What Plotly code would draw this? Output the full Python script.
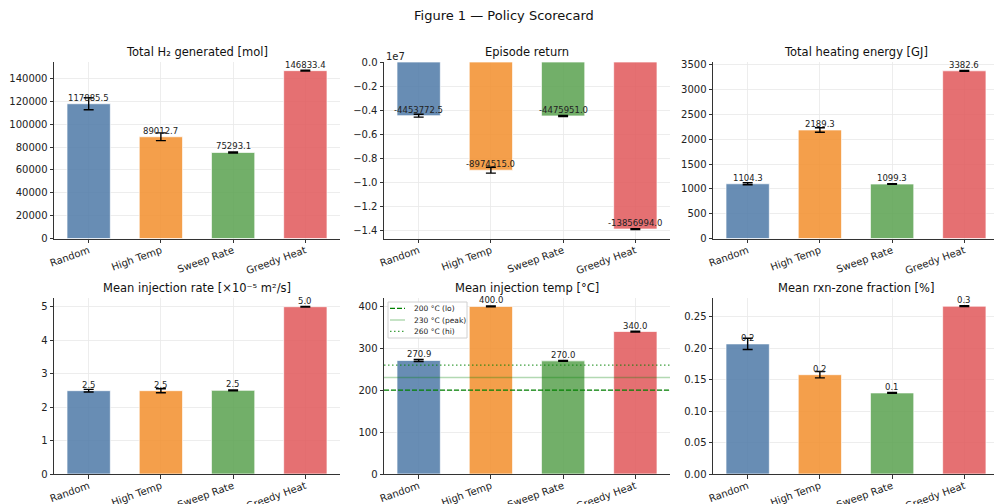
import plotly.graph_objects as go

CATEGORIES = ["Random", "High Temp", "Sweep Rate", "Greedy Heat"]
COLORS = ["#4e79a7", "#f28e2b", "#59a14f", "#e15759"]

H2_MEAN = [117885.5, 89012.7, 75293.1, 146833.4]
H2_ERR = [5200, 3400, 500, 300]
RET_MEAN = [-4453772.5, -8974515.0, -4475951.0, -13856994.0]
RET_ERR = [120000, 240000, 40000, 40000]
HEAT_MEAN = [1104.3, 2189.3, 1099.3, 3382.6]
HEAT_ERR = [20, 45, 8, 8]
RATE_MEAN = [2.49, 2.49, 2.50, 5.00]
RATE_ERR = [0.04, 0.06, 0.01, 0.01]
TEMP_MEAN = [270.9, 400.0, 270.0, 340.0]
TEMP_ERR = [2.5, 1.0, 1.0, 1.0]
FRAC_MEAN = [0.207, 0.158, 0.129, 0.267]
FRAC_ERR = [0.009, 0.005, 0.0006, 0.0006]

TITLES = ["Total H₂ generated [mol]", "Episode return", "Total heating energy [GJ]",
          "Mean injection rate [×10⁻⁵ m²/s]", "Mean injection temp [°C]", "Mean rxn-zone fraction [%]"]

RET_TICKS = [0.0, -0.2, -0.4, -0.6, -0.8, -1.0, -1.2, -1.4]
RET_SCALE = 1e7

HLINE_VALUES = [200, 230, 260]
HLINE_LABELS = ["200 °C (lo)", "230 °C (peak)", "260 °C (hi)"]
HLINE_STYLES = [("rgba(0,128,0,1)", "5px,2px", 1.3), ("rgba(0,128,0,0.3)", "solid", 1.5),
                ("rgba(0,128,0,0.75)", "1.5px,2.5px", 1.3)]

W, H = 994, 504
FONT = "DejaVu Sans, Liberation Sans, sans-serif"

def rgba(hexc, a):
    h = hexc.lstrip("#")
    return "rgba(%d,%d,%d,%.2f)" % (int(h[0:2], 16), int(h[2:4], 16), int(h[4:6], 16), a)

panels = [
    (H2_MEAN, H2_ERR, [0, 154400]),
    (RET_MEAN, RET_ERR, [-14640000, 0]),
    (HEAT_MEAN, HEAT_ERR, [0, 3560]),
    (RATE_MEAN, RATE_ERR, [0, 5.26]),
    (TEMP_MEAN, TEMP_ERR, [0, 420]),
    (FRAC_MEAN, FRAC_ERR, [0, 0.28]),
]

# pixel layout of axes: (left, right, top, bottom)
col_px = [(54, 340), (384, 670), (713, 994)]
row_px = [(62, 238.5), (298, 474)]
xranges = [[-0.48, 3.48], [-0.48, 3.48], [-0.48, 3.411]]
title_cx = [197, 527, 855.5]
title_cy = [52, 288]

fig = go.Figure()
layout = dict(
    width=W, height=H, margin=dict(l=0, r=0, t=0, b=0, autoexpand=False),
    paper_bgcolor="white", plot_bgcolor="white",
    font=dict(family=FONT, size=10, color="#222"),
    showlegend=False, barmode="overlay",
)
annotations = []
shapes = []

for i, (mean, err, yr) in enumerate(panels):
    r, c = divmod(i, 3)
    n = i + 1
    xa = "xaxis" if n == 1 else "xaxis%d" % n
    ya = "yaxis" if n == 1 else "yaxis%d" % n
    xr = "x" if n == 1 else "x%d" % n
    yr_ = "y" if n == 1 else "y%d" % n
    l, rr = col_px[c]
    t, b = row_px[r]
    fig.add_trace(go.Bar(
        x=list(range(len(CATEGORIES))), y=mean, width=0.6,
        marker=dict(color=[rgba(cc, 0.85) for cc in COLORS], line=dict(color="rgba(255,255,255,0.7)", width=1)),
        error_y=dict(type="data", array=err, color="black", thickness=1.4, width=5),
        xaxis=xr, yaxis=yr_, hoverinfo="skip",
    ))
    layout[xa] = dict(
        domain=[l / W, rr / W], range=xranges[c], anchor=yr_, automargin=False,
        tickmode="array", tickvals=list(range(len(CATEGORIES))), ticktext=CATEGORIES,
        tickangle=-20, showline=True, linecolor="#333", linewidth=1,
        ticks="outside", ticklen=3.5, tickcolor="#333", ticklabelstandoff=-2,
        showgrid=True, gridcolor="#e8e8e8", gridwidth=0.8, zeroline=False,
        tickfont=dict(size=10, color="#222"), fixedrange=True,
    )
    yd = dict(
        domain=[1 - b / H, 1 - t / H], range=yr, anchor=xr, automargin=False,
        showline=True, linecolor="#333", linewidth=1,
        ticks="outside", ticklen=3.5, tickcolor="#333",
        showgrid=True, gridcolor="#e8e8e8", gridwidth=0.8, zeroline=False,
        tickfont=dict(size=10, color="#222"), fixedrange=True,
    )
    if i == 0:
        yd.update(tickformat="d", dtick=20000)
    elif i == 1:
        yd.update(tickmode="array", tickvals=[v * RET_SCALE for v in RET_TICKS],
                  ticktext=[("%.1f" % v).replace("-", "−") for v in RET_TICKS])
    elif i == 2:
        yd.update(tickformat="d", dtick=500)
    elif i == 3:
        yd.update(tickformat="d", dtick=1)
    elif i == 4:
        yd.update(tickformat="d", dtick=100)
    else:
        yd.update(tickformat=".2f", dtick=0.05)
    layout[ya] = yd

    for k, v in enumerate(mean):
        annotations.append(dict(
            x=k, y=v, xref=xr, yref=yr_, text="%.1f" % v, showarrow=False,
            yanchor="bottom", xanchor="center", yshift=-1,
            font=dict(size=8.5, color="#222"),
        ))
    annotations.append(dict(
        x=title_cx[c] / W, y=1 - title_cy[r] / H, xref="paper", yref="paper",
        text=TITLES[i], showarrow=False, xanchor="center", yanchor="middle",
        font=dict(size=11.5, color="#111"),
    ))

# offset text for episode return
annotations.append(dict(x=384 / W, y=1 - 56 / H, xref="paper", yref="paper", text="1e7",
                        showarrow=False, xanchor="left", yanchor="middle", font=dict(size=10, color="#222")))

# figure title
annotations.append(dict(x=504 / W, y=1 - 15 / H, xref="paper", yref="paper",
                        text="Figure 1 — Policy Scorecard", showarrow=False,
                        xanchor="center", yanchor="middle", font=dict(size=13, color="#111")))

# reference lines in the temperature panel
for v, (col, dash, wdt) in zip(HLINE_VALUES, HLINE_STYLES):
    shapes.append(dict(type="line", xref="x5 domain", yref="y5", x0=0, x1=1, y0=v, y1=v,
                       line=dict(color=col, dash=dash, width=wdt), layer="above"))

# manual legend box in the temperature panel
lg_l, lg_t, lg_r, lg_b = 388, 302, 467, 338
shapes.append(dict(type="rect", xref="paper", yref="paper", x0=lg_l / W, x1=lg_r / W,
                   y0=1 - lg_b / H, y1=1 - lg_t / H, line=dict(color="#d0d0d0", width=1),
                   fillcolor="rgba(255,255,255,0.85)", layer="above"))
row_y = [308.3, 320, 331.3]
for yy, lab, (col, dash, wdt) in zip(row_y, HLINE_LABELS, HLINE_STYLES):
    shapes.append(dict(type="line", xref="paper", yref="paper", x0=390 / W, x1=405 / W,
                       y0=1 - yy / H, y1=1 - yy / H, line=dict(color=col, dash=dash, width=wdt), layer="above"))
    annotations.append(dict(x=412 / W, y=1 - yy / H, xref="paper", yref="paper", text=lab,
                            showarrow=False, xanchor="left", yanchor="middle",
                            font=dict(size=7.5, color="#222")))

layout["annotations"] = annotations
layout["shapes"] = shapes
fig.update_layout(**layout)
fig.write_html("out.html", config={"displayModeBar": False, "staticPlot": True},
               post_script="document.body.style.margin='0px';document.body.style.overflow='hidden';")
